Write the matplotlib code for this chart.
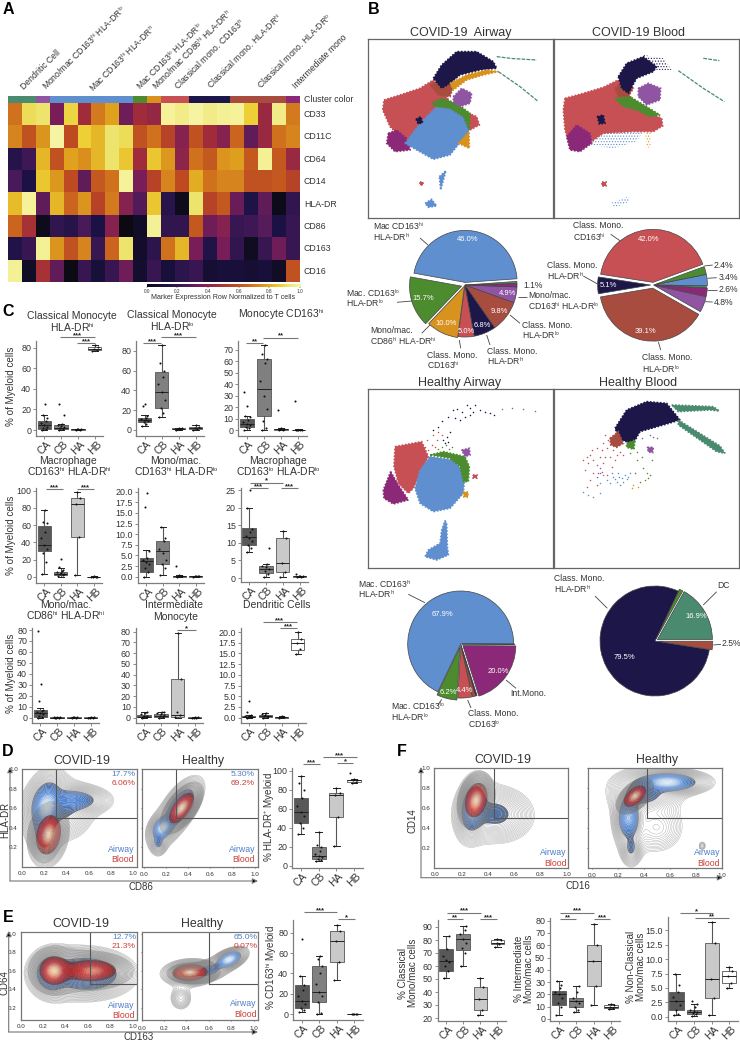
import numpy as np
import matplotlib
matplotlib.use("Agg")
import matplotlib.pyplot as plt
import matplotlib._mathtext as _mt
from matplotlib.colors import LinearSegmentedColormap, LogNorm
from matplotlib.patches import Polygon

_mt.SHRINK_FACTOR = 0.55
plt.rcParams.update({"font.family": ["Liberation Sans", "DejaVu Sans"], "mathtext.fontset": "custom",
                     "mathtext.rm": "Liberation Sans", "mathtext.default": "regular",
                     "hatch.linewidth": 0.5, "axes.linewidth": 0.8})

# ---------- Panel A data ----------
MARKERS = ["CD33", "CD11C", "CD64", "CD14", "HLA-DR", "CD86", "CD163", "CD16"]
HEAT = [
 [.68,.90,.92,.35,.88,.45,.70,.78,.33,.45,.42,.98,.95,.99,.95,.97,.98,.87,.43,.95,.70],
 [.72,.60,.75,.99,.58,.87,.82,.92,.90,.60,.68,.55,.38,.60,.45,.38,.65,.30,.43,.68,.72],
 [.15,.22,.82,.60,.78,.74,.82,.92,.85,.45,.85,.76,.40,.68,.62,.75,.77,.62,.97,.62,.43],
 [.25,.12,.85,.76,.58,.30,.62,.68,.98,.35,.55,.72,.58,.80,.68,.72,.72,.60,.60,.62,.55],
 [.83,.98,.30,.82,.65,.75,.55,.70,.38,.27,.85,.16,.03,.92,.55,.62,.32,.13,.30,.02,.18],
 [.65,.48,.03,.18,.15,.25,.12,.38,.00,.05,.97,.18,.18,.62,.33,.38,.20,.22,.28,.12,.20],
 [.14,.20,.97,.75,.60,.72,.20,.65,.92,.06,.17,.68,.82,.35,.14,.35,.18,.04,.20,.33,.20],
 [.97,.05,.48,.30,.01,.20,.09,.20,.33,.07,.20,.10,.17,.20,.08,.10,.10,.08,.10,.05,.60]]
BLUE, GREEN, ORANGE, RED = "#5f8fcf", "#4c8c2f", "#d8921e", "#c75055"
NAVY, BROWN, PURPLE, MAGENTA, TEAL = "#1d1648", "#a84c40", "#8f55a3", "#8c2878", "#4a8a6e"
CLUSTERS = [TEAL]*2 + [PURPLE] + [BLUE]*6 + [GREEN, ORANGE] + [RED]*2 + [NAVY]*3 + [BROWN]*4 + [MAGENTA]
HEAT_NAMES = ["Dendritic Cell", "Mono/mac CD163$^{hi}$ HLA-DR$^{lo}$", "Mac CD163$^{hi}$ HLA-DR$^{hi}$",
              "Mac CD163$^{lo}$ HLA-DR$^{lo}$", "Mono/mac CD86$^{hi}$ HLA-DR$^{hi}$", "Classical mono. CD163$^{hi}$",
              "Classical mono. HLA-DR$^{hi}$", "Classical mono. HLA-DR$^{lo}$", "Intermediate mono"]

# ---------- Panel B data ----------
PIE1_VALS = [46.0, 15.7, 10.0, 5.0, 6.8, 9.8, 4.9, 1.1, 0.6]
PIE1_COLS = [BLUE, GREEN, ORANGE, RED, NAVY, BROWN, PURPLE, MAGENTA, TEAL]
PIE2_VALS = [42.0, 5.1, 39.1, 4.8, 2.6, 0.6, 3.4, 2.4]
PIE2_COLS = [RED, NAVY, BROWN, PURPLE, MAGENTA, TEAL, BLUE, GREEN]
PIE3_VALS = [67.9, 6.2, 4.4, 1.0, 0.4, 20.0, 0.1]
PIE3_COLS = [BLUE, GREEN, RED, BROWN, NAVY, MAGENTA, TEAL]
PIE4_VALS = [16.9, 1.1, 79.5, 2.5]
PIE4_COLS = [TEAL, GREEN, NAVY, BROWN]

# UMAP cluster outlines and sparse regions (crop coordinates)
CA_SOLID = [
 (RED, [(42,300),(90,285),(150,265),(190,240),(215,270),(250,320),(320,350),(328,375),(300,390),(250,400),(150,420),(100,420),(60,380),(38,330)]),
 (MAGENTA, [(55,400),(80,390),(115,420),(120,450),(75,455),(50,430)]),
 (BLUE, [(105,430),(150,370),(200,320),(260,320),(295,360),(295,400),(260,440),(240,465),(190,478),(140,450)]),
 (GREEN, [(185,310),(215,295),(260,310),(300,340),(297,390),(280,350),(240,325),(200,320)]),
 (ORANGE, [(265,430),(297,395),(298,445)]),
 (BROWN, [(180,255),(215,235),(250,260),(240,290),(205,285)]),
 (NAVY, [(190,235),(215,195),(260,155),(320,155),(370,185),(380,205),(330,210),(270,225),(240,250),(215,265)]),
 (ORANGE, [(240,250),(290,225),(350,210),(385,215),(340,225),(290,240),(250,270)]),
 (PURPLE, [(250,290),(275,265),(305,280),(300,310),(270,320),(250,305)]),
 (NAVY, [(138,358),(152,350),(158,368),(145,372)]),
 (RED, [(150,547),(160,547),(160,556),(150,556)]),
 (BLUE, [(165,610),(185,598),(200,618),(175,622)]),
 (BLUE, [(208,530),(228,512),(218,548),(212,570)])]
CA_LINES = [(TEAL, [(380,170),(430,176),(500,180)]), (TEAL, [(385,215),(450,260),(505,305)])]
CB_SOLID = [
 (RED, [(585,295),(640,280),(700,262),(745,240),(775,280),(800,320),(875,355),(878,378),(850,395),(790,395),(700,400),(650,435),(600,440),(585,390),(580,330)]),
 (MAGENTA, [(590,410),(620,375),(660,400),(665,430),(630,455),(600,450)]),
 (BROWN, [(735,265),(765,240),(790,265),(775,290),(745,290)]),
 (GREEN, [(735,295),(780,290),(830,320),(870,345),(840,350),(800,330),(760,320)]),
 (NAVY, [(745,230),(770,190),(820,170),(860,200),(850,215),(800,235),(775,280),(755,265)]),
 (PURPLE, [(805,265),(835,250),(872,265),(870,300),(830,315),(805,290)]),
 (NAVY, [(682,350),(700,345),(705,370),(688,372)]),
 (RED, [(696,547),(708,547),(708,558),(696,558)])]
CB_SPARSE = [(BLUE, [(650,435),(690,380),(740,325),(790,320),(835,370),(800,425),(730,445)]),
             (NAVY, [(820,165),(880,175),(905,210),(860,210)]),
             (BLUE, [(720,610),(775,590),(780,605),(735,622)]),
             (ORANGE, [(825,395),(842,400),(842,445),(830,440)])]
CB_LINES = [(TEAL, [(925,212),(1000,265),(1063,305)]), (TEAL, [(1000,175),(1048,182)])]
HA_SOLID = [
 (RED, [(75,260),(155,245),(175,290),(130,385),(115,400),(85,370),(72,320)]),
 (MAGENTA, [(62,335),(85,375),(115,420),(70,432),(42,415),(40,390)]),
 (BLUE, [(180,290),(250,300),(285,340),(280,400),(240,445),(190,455),(150,430),(135,385),(150,330)]),
 (GREEN, [(180,285),(220,275),(285,290),(298,320),(295,365),(280,365),(270,320),(240,295)]),
 (BLUE, [(225,482),(230,490),(232,560),(235,585),(200,600),(165,590),(175,570),(210,550),(215,510)]),
 (PURPLE, [(275,270),(298,265),(300,285),(285,290)]),
 (ORANGE, [(280,395),(295,395),(295,412),(282,412)]),
 (RED, [(308,345),(320,345),(320,354),(308,354)])]
HA_PTS = [
 (NAVY, [(215,182),(235,170),(250,150),(262,148),(275,155),(290,135),(300,145),(315,135),(330,150),(345,155),(360,160),(372,165),
         (255,175),(270,180),(285,170),(300,165),(220,240),(230,230),(235,245),(225,250),(240,215),(190,210),(205,200),(310,155)]),
 (RED, [(150,250),(170,240),(190,225),(205,215),(165,262),(185,255),(200,240),(215,225),(140,275),(160,280),(175,270),(195,262)]),
 (GREEN, [(205,268),(215,262),(228,255),(238,268),(222,275),(245,262)]),
 (TEAL, [(395,147),(425,145),(460,146),(495,152)])]
HB_SOLID = [
 (NAVY, [(735,205),(770,150),(830,125),(890,130),(930,180),(880,195),(810,215),(790,250),(750,240)]),
 (BROWN, [(720,235),(745,215),(760,250),(740,262),(722,255)]),
 (GREEN, [(770,250),(795,240),(792,268),(770,262)]),
 (TEAL, [(905,135),(1030,140),(1048,153),(1020,150),(925,155)]),
 (TEAL, [(925,180),(1050,258),(1065,280),(1040,275),(925,195)]),
 (PURPLE, [(832,262),(850,262),(848,278),(835,276)])]
HB_PTS = [
 (RED, [(650,290),(665,270),(680,265),(700,250),(712,265),(690,290),(670,300),(655,310),(645,330),(670,340),(700,310),(720,290),
        (735,300),(690,340),(660,360),(680,375),(650,380),(725,320),(710,345),(640,300),(660,285),(695,270),(730,270),(742,285),
        (705,225),(715,240),(750,275),(760,285),(680,315),(705,290)]),
 (BLUE, [(700,345),(710,360),(720,370),(730,350),(745,340),(755,355),(765,345),(775,350),(740,365),(750,375),(725,340),(690,370),
         (760,365),(780,340),(655,405),(670,410),(690,400),(640,395),(735,358),(748,350),(770,358)]),
 (GREEN, [(800,300),(815,290),(845,300),(820,325),(830,340),(840,345),(825,360),(810,365),(835,355),(795,340),(800,275),(780,280)]),
 (PURPLE, [(860,235),(850,230),(840,225),(815,235),(690,325),(685,340),(695,335),(680,350)]),
 (ORANGE, [(790,375),(805,380),(785,385)])]

# ---------- Box plot data: (q1, median, q3, whisker low, whisker high) ----------
C1_BOX = [(.5,4.5,9,0,15),(.5,2,5,0,6),(.2,.5,.8,0,1.3),(78,79,81,77,83)]
C1_OUT = [[25],[15,25],[],[]]
C1_PTS = [[0,1,2,3,5,7,9,12,15],[0,1,2,3,4,5,6],[0,.3,.5,.8,1.2],[77,78,79,81,83]]
C2_BOX = [(8,10,12,4,15),(22,38,59,13,86),(.5,1,1.5,0,2),(1,2,3,0,4.5)]
C2_OUT = [[24,26],[],[],[]]
C2_PTS = [[4,6,8,9,10,11,12,14],[13,17,22,30,38,46,54,60,68,86],[0,.5,1,1.5,2],[0,1,2,3,4.5]]
C3_BOX = [(3,5,10,0,12),(12,36,62,0,74),(.3,.7,1.2,0,2),(0,.1,.3,0,.5)]
C3_OUT = [[21,33],[],[17],[25]]
C3_PTS = [[0,2,3,4,5,7,9,11,12],[0,2,8,18,30,43,58,62,66,74],[0,.4,.7,1,1.6],[0,.1,.2,.3,.4]]
C4_BOX = [(30,37,59,4,78),(2,4,6,0,10),(46,85,91,2.5,98),(.1,.3,.5,0,.8)]
C4_OUT = [[],[12,21],[],[]]
C4_PTS = [[4,17,28,33,37,45,52,62,64,78],[1,2,3,4,5,6,7,8],[2.5,46,85,91,98],[0,.2,.3,.5,.8]]
C5_BOX = [(1,3.7,4.5,0,6.2),(3,6,8.5,.5,11.7),(0,.1,.2,0,.3),(0,.1,.15,0,.2)]
C5_OUT = [[16.5,19.7],[],[2.6],[]]
C5_PTS = [[0,1,2,3,3.5,4,4.5,6],[.5,2,3,4,5.5,6.5,8.5,9,11.7],[0,.1,.1,.2,.3],[0,.1,.1,.1,.2]]
C6_BOX = [(9.5,11.7,14.2,7.3,20),(1.3,2.5,3.3,.3,3.9),(1.6,4.2,11.3,.4,13.3),(.3,.5,.6,.2,.7)]
C6_OUT = [[25],[8.5],[],[1.0]]
C6_PTS = [[7.3,8.5,9.5,10.5,11.5,12,13,14,20],[.3,1,2,2.5,3,3.3,3.9],[.4,1.6,4.2,11.3,13.3],[.2,.4,.5,.6,.7]]
C7_BOX = [(1,4,7,0,9),(0,.1,.2,0,.3),(0,.1,.2,0,.4),(0,.1,.2,0,.3)]
C7_OUT = [[15,31,79],[],[],[]]
C7_PTS = [[0,1,2,3,4,5,6,7],[0,.1,.1,.2,.2,.3],[0,.1,.2,.3,.4],[0,.1,.1,.2,.3]]
C8_BOX = [(.3,1,2.2,0,5),(1,2,3.5,0,5.5),(1,2.5,36,0,79),(0,.1,.2,0,.3)]
C8_OUT = [[],[],[],[]]
C8_PTS = [[0,.5,1,1.5,2,3,4,5],[0,1,2,2.5,3,4,5,5.5],[1,2.5,5,36,79],[0,.1,.1,.2,.3]]
C9_BOX = [(.1,.2,.5,0,.6),(.2,.4,.7,0,1.2),(0,.1,.2,0,.3),(15.9,17.4,18.4,14.9,20)]
C9_OUT = [[1.4,3.9],[],[],[]]
C9_PTS = [[0,.1,.2,.2,.3,.4,.5,.6],[0,.2,.3,.4,.6,.8,1.2],[0,.1,.1,.2,.3],[14.9,16,17.4,18.4,20]]
D_BOX = [(45,57,71,34,95),(7,10,20,5,36),(51,75,77,21,82),(88,90,91,87,92)]
D_OUT = [[],[],[],[98]]
D_PTS = [[34,40,45,52,57,63,71,80,87,95],[5,6,7,9,10,12,15,20,22,36],[21,51,75,77,82],[87,88,90,91,92]]
E_BOX = [(6,13,29,2,37),(12,22,47,0,57),(51,72,82,33,88),(0,0,.1,0,.3)]
E_OUT = [[74],[],[],[]]
E_PTS = [[2,4,6,10,13,18,24,29,37],[0,1,12,18,22,30,40,47,54,57],[33,51,72,82,88],[0,0,.1,.2,.3]]
F1_BOX = [(56,64,73,51,83),(72,81,85,60,91),(26,35,44,22,51),(77,78,80,75,81)]
F1_OUT = [[],[],[],[]]
F1_PTS = [[51,56,60,63,65,68,73,83],[60,70,74,78,81,85,88,91],[22,26,35,44,51],[75,77,78,80,81]]
F2_BOX = [(11,20,23,3,31),(10,15,17,6,27),(27,47,60,11,77),(9,10,11,8,12)]
F2_OUT = [[],[],[],[]]
F2_PTS = [[3,10,13,17,20,22,25,28,31],[6,7,10,13,15,17,22,27],[11,27,47,60,77],[8,9,10,11,12]]
F3_BOX = [(1.2,2.8,4.3,.3,7.5),(.4,.8,1.2,.1,2.2),(3.3,6.5,12.8,.3,16.5),(5.9,7.1,8,5,8.6)]
F3_OUT = [[],[2.8],[],[]]
F3_PTS = [[.3,.5,1.2,2,2.8,3.5,4.3,5.5,7.5],[.1,.4,.6,.8,1,1.2,1.6,2.2],[.3,3.3,6.5,12.8,16.5],[5,5.9,7.1,8,8.6]]
GROUPS = ["CA", "CB", "HA", "HB"]
BOX_FILL = ["#585858", "#808080", "#c9c9c9", "#ffffff"]

# ---------- Flow density blobs: (x, y, sx, sy, rho, weight) ----------
D1_AIR = [(.22,.62,.06,.11,.2,1),(.45,.68,.13,.06,0,.3),(.2,.35,.05,.11,0,.25),(.4,.55,.13,.15,0,.05)]
D1_BLD = [(.24,.33,.05,.09,.2,1),(.22,.3,.07,.12,0,.05)]
D2_AIR = [(.17,.40,.04,.05,.3,1),(.33,.62,.07,.1,.6,.45),(.13,.25,.035,.06,0,.1),(.28,.5,.09,.14,.7,.04)]
D2_BLD = [(.34,.60,.05,.07,.6,1),(.34,.6,.08,.1,.6,.05)]
E1_AIR = [(.28,.57,.06,.08,0,1),(.6,.56,.14,.09,0,.55),(.5,.6,.16,.11,0,.05)]
E1_BLD = [(.3,.60,.06,.07,0,1),(.65,.60,.11,.06,0,.55),(.5,.6,.16,.1,0,.05)]
E2_AIR = [(.78,.72,.05,.04,.5,1),(.6,.6,.07,.05,.3,.15),(.42,.57,.09,.05,0,.1)]
E2_BLD = [(.43,.58,.07,.04,.1,1),(.35,.3,.06,.08,0,.03),(.45,.57,.1,.06,0,.05)]
F1_AIR = [(.29,.6,.04,.1,.2,1),(.45,.55,.13,.13,0,.08),(.5,.5,.15,.15,0,.02)]
F1_BLD = [(.31,.68,.04,.08,.2,1)]
F2_AIR = [(.58,.86,.1,.04,0,1),(.28,.5,.04,.1,0,.55),(.3,.2,.04,.09,0,.08),(.5,.4,.14,.17,0,.025),(.85,.22,.025,.04,0,.012),(.4,.75,.12,.1,0,.12)]
F2_BLD = [(.33,.72,.04,.05,.5,1)]

# ---------- helpers ----------
W, H = 740, 1042
fig = plt.figure(figsize=(W/100, H/100), dpi=100)
TXT = "#333333"
GRAY = "#7d7d7d"
HEAT_MAP = LinearSegmentedColormap.from_list("ref", [(0,"#0b0a12"),(.12,"#1c1245"),(.25,"#481a5a"),(.35,"#7a1e58"),(.45,"#a02c3c"),
                                                      (.58,"#bd4a22"),(.68,"#d0701e"),(.78,"#e0a21e"),(.87,"#edd035"),(.93,"#eee878"),(1,"#f8f6a8")])

def ax_px(x0, y0, x1, y1, **kw):
    return fig.add_axes([x0/W, 1-y1/H, (x1-x0)/W, (y1-y0)/H], **kw)

ov = fig.add_axes([0, 0, 1, 1], zorder=20)
ov.set_xlim(0, W); ov.set_ylim(H, 0); ov.axis("off"); ov.patch.set_alpha(0)

def T(x, y, s, size=6.2, ha="left", va="center", color=TXT, **kw):
    return ov.text(x, y, s, fontsize=size, ha=ha, va=va, color=color, **kw)

def L(pts, color="#444444", lw=.6):
    ov.plot([p[0] for p in pts], [p[1] for p in pts], color=color, lw=lw, solid_capstyle="butt")

# ---------- Panel A ----------
ha = ax_px(8, 103, 300, 282)
ha.imshow(np.array(HEAT), cmap=HEAT_MAP, vmin=0, vmax=1, aspect="auto", interpolation="nearest")
ha.set_xticks([]); ha.set_yticks([])
for s in ha.spines.values(): s.set_visible(False)
hc = ax_px(8, 96, 300, 103)
hc.imshow([[matplotlib.colors.to_rgb(c) for c in CLUSTERS]], aspect="auto")
hc.axis("off")
T(304, 99, "Cluster color", 6.3)
for i, m in enumerate(MARKERS):
    T(304, 114.5 + i*22.4, m, 6.3)
for (x, y), s in zip([(22,88),(44,88),(91,90),(138,88),(154,88),(176,88),(209,87),(259,87),(294,87)], HEAT_NAMES):
    ov.text(x, y, s, fontsize=6.2, rotation=45, rotation_mode="anchor", ha="left", va="center", color=TXT)
cb = ax_px(146.7, 284.3, 300, 287.3)
cb.imshow(np.linspace(0, 1, 256)[None, :], cmap=HEAT_MAP, aspect="auto", extent=[0, 1, 0, 1])
cb.set_yticks([]); cb.set_xticks(np.arange(0, 1.01, .2))
cb.set_xticklabels(["0.0","0.2","0.4","0.6","0.8","1.0"], fontsize=3.4, color=TXT)
cb.tick_params(length=1, width=.3, pad=.5)
for s in cb.spines.values(): s.set_visible(False)
T(223, 297.3, "Marker Expression Row Normalized to T cells", 5.1, ha="center")

for x, y, s in [(8,9,"A"),(374,9,"B"),(8,312,"C"),(8,752,"D"),(8,917,"E"),(402,752,"F")]:
    T(x, y, s, 11.5, ha="center", color="black", fontweight="bold")

# ---------- Panel B UMAPs ----------
def umap(box, xlim, ylim, solid=(), sparse=(), lines=(), pts=()):
    a = ax_px(*box)
    a.set_xlim(*xlim); a.set_ylim(*ylim)
    a.set_xticks([]); a.set_yticks([])
    for s in a.spines.values():
        s.set_color("#666666"); s.set_linewidth(.9)
    for c, v in sparse:
        a.add_patch(Polygon(v, fc="none", ec=c, hatch="......", lw=0))
    for c, v in solid:
        a.add_patch(Polygon(v, fc=c, ec=c, lw=1.2, ls=(0, (1, 1))))
    for c, v in lines:
        a.plot([p[0] for p in v], [p[1] for p in v], color=c, lw=.9, ls=(0, (3, 1)))
    for c, v in pts:
        a.scatter([p[0] for p in v], [p[1] for p in v], s=1.2, color=c, lw=0)
    return a

umap((368, 39.3, 552.7, 218.3), (-6, 548), (655, 118), CA_SOLID, (), CA_LINES)
umap((554.3, 39.3, 739, 218.3), (553, 1107), (655, 118), CB_SOLID, CB_SPARSE, CB_LINES)
umap((368, 389.3, 552.7, 568.3), (-6, 548), (625, 88), HA_SOLID, (), (), HA_PTS)
umap((554.3, 389.3, 739, 568.3), (553, 1107), (625, 88), HB_SOLID, (), (), HB_PTS)
for x, y, s in [(461,32.7,"COVID-19  Airway"),(638,32.7,"COVID-19 Blood"),(459.7,382.7,"Healthy Airway"),(638,382.7,"Healthy Blood")]:
    T(x, y, s, 9, ha="center")

# ---------- Panel B pies ----------
def pie(cx, cy, R, vals, cols, start, explode, dists):
    m = 1.35
    a = ax_px(cx-R*m, cy-R*m, cx+R*m, cy+R*m)
    a.set_zorder(5)
    wedges, _ = a.pie(vals, colors=cols, startangle=start, explode=explode, normalize=True,
                      wedgeprops={"edgecolor": "#444444", "linewidth": .5})
    for w, v, d in zip(wedges, vals, dists):
        if d:
            ang = np.radians((w.theta1 + w.theta2)/2)
            a.text(w.center[0]+d*np.cos(ang), w.center[1]+d*np.sin(ang), f"{v:.1f}%",
                   color="white", fontsize=5.5, ha="center", va="center")
    a.set_xlim(-m, m); a.set_ylim(-m, m)

pie(465, 285, 52, PIE1_VALS, PIE1_COLS, 4, [.05,.07,.02,0,0,0,0,0,0], [.83,.78,.81,.9,.85,.84,.84,0,0])
pie(653.3, 285, 53, PIE2_VALS, PIE2_COLS, 20, [.05,.05,.06,.02,.02,0,.02,.02], [.82,.79,.83,0,0,0,0,0])
pie(460.7, 644, 53, PIE3_VALS, PIE3_COLS, 0, [0,.06,.02,.02,.02,.05,.02], [.66,.88,.86,0,0,.82,0])
pie(655, 641, 55, PIE4_VALS, PIE4_COLS, 0, [.05,.04,0,.05], [.82,0,.63,0])

PIE_TEXT = [
 (373.3,226,"Mac CD163$^{hi}$"),(373.3,236.7,"HLA-DR$^{hi}$"),(346,293,"Mac. CD163$^{lo}$"),(346,303.3,"HLA-DR$^{lo}$"),
 (370.5,330.7,"Mono/mac."),(370,340.7,"CD86$^{hi}$ HLA-DR$^{hi}$"),(427,355,"Class. Mono."),(427,365,"CD163$^{hi}$"),
 (486.7,351,"Class. Mono."),(486.7,361.5,"HLA-DR$^{hi}$"),(521.7,325,"Class. Mono."),(521.7,335,"HLA-DR$^{lo}$"),
 (528.3,295,"Mono/mac."),(528.3,305.7,"CD163$^{hi}$ HLA-DR$^{lo}$"),(523,286,"1.1%"),
 (573.3,226,"Class. Mono."),(573.3,236.7,"CD163$^{hi}$"),(547.3,266,"Class. Mono."),(547.3,276,"HLA-DR$^{hi}$"),
 (641.7,358,"Class. Mono."),(641.7,369,"HLA-DR$^{lo}$"),(714,265,"2.4%"),(718.7,277.7,"3.4%"),(718.7,290,"2.6%"),(714,302.7,"4.8%"),
 (358,584,"Mac. CD163$^{hi}$"),(358,594.3,"HLA-DR$^{hi}$"),(390.7,706,"Mac. CD163$^{lo}$"),(390.7,716.7,"HLA-DR$^{lo}$"),
 (468.3,714,"Class. Mono."),(468.3,724,"CD163$^{lo}$"),(510.7,693.3,"Int.Mono."),
 (554,578.3,"Class. Mono."),(554,588.7,"HLA-DR$^{hi}$"),(717.7,585.3,"DC"),(722,644,"2.5%")]
for x, y, s in PIE_TEXT:
    T(x, y, s, 6.2)
LEADERS = [((420,238),(428,245)),((397,302.3),(412,301)),((421.7,333.3),(430,325)),((459.3,340),(460.7,348.3)),
           ((486.7,335),(490,345)),((510,315),(520,323.3)),((518.3,296.7),(527.3,296.7)),
           ((610.7,234.3),(620,240.7)),((583.3,276),(599.3,285)),((658.3,341.7),(660.7,350)),
           ((704.3,266),(712.7,265)),((707.3,278.3),(716.7,277.7)),((707.3,290),(716.7,290)),((705,301.7),(712.7,302)),
           ((408.3,594.3),(425,602.7)),((441.7,699.3),(438,705)),((467.7,700),(471,708)),((506,680),(516,688.3)),
           ((595,596),(607.3,608.3)),((716.7,591.7),(703.3,605)),((713.3,645),(721,644.3))]
for p, q in LEADERS:
    L([p, q])

# ---------- box plots ----------
JIT = [-.1, .08, -.04, .13, 0, -.15, .05, .11, -.07, .02]

def boxes(xl, xr, yt, yb, cal, data, out, pts, ticks, fmt=None, ylabel=None, ylab=None):
    (p0, v0), (p1, v1) = cal
    k = (v1-v0)/(p1-p0)
    a = ax_px(xl, yt, xr, yb)
    a.patch.set_alpha(0)
    a.set_xlim(-.5, 3.5)
    a.set_ylim(v0+(yb-p0)*k, v0+(yt-p0)*k)
    stats = [dict(q1=q1, med=m, q3=q3, whislo=lo, whishi=hi, fliers=[]) for q1, m, q3, lo, hi in data]
    b = a.bxp(stats, positions=range(4), widths=.8, capwidths=.36, patch_artist=True, showfliers=False,
              medianprops=dict(color="#222222", lw=.7), whiskerprops=dict(color="#555555", lw=.8),
              capprops=dict(color="#222222", lw=.7), boxprops=dict(edgecolor="#555555", lw=.6))
    for patch, c in zip(b["boxes"], BOX_FILL):
        patch.set_facecolor(c)
    for i in range(4):
        vals = list(pts[i]) + list(out[i])
        xs = [i + JIT[j % len(JIT)]*1.4 for j in range(len(vals))]
        a.scatter(xs, vals, s=2.2, color="#111111", lw=0, zorder=5)
    a.set_xticks(range(4)); a.set_xticklabels(GROUPS, rotation=45, fontsize=7.5, color=TXT, ha="center", va="top")
    a.set_yticks(ticks)
    a.set_yticklabels([(fmt % t if fmt else str(t)) for t in ticks], fontsize=6.4, color=TXT)
    a.tick_params(axis="y", length=2, width=.6, color="#777777", pad=1.5)
    a.tick_params(axis="x", length=2, width=.6, color="#777777", pad=0.5)
    for s in ("top", "right"): a.spines[s].set_visible(False)
    for s in ("left", "bottom"):
        a.spines[s].set_color(GRAY); a.spines[s].set_linewidth(.9)
    if ylabel:
        T(ylab[0], ylab[1], ylabel, 7.1, ha="center", rotation=90, linespacing=1.1, multialignment="center")
    return a

T0 = list(range(0, 81, 20))
boxes(36,103,341,436,[(430,0),(347.7,80)],C1_BOX,C1_OUT,C1_PTS,T0,ylabel="% of Myeloid cells",ylab=(11.5,386))
boxes(136,204,341,436,[(429.7,0),(351,80)],C2_BOX,C2_OUT,C2_PTS,T0)
boxes(238.3,307,341,436,[(430,0),(349.7,70)],C3_BOX,C3_OUT,C3_PTS,list(range(0,71,10)))
boxes(36,102,487.7,582.7,[(577,0),(490.7,100)],C4_BOX,C4_OUT,C4_PTS,list(range(0,101,20)),ylabel="% of Myeloid cells",ylab=(11.5,535))
HALF = [0,2.5,5,7.5,10,12.5,15,17.5,20]
boxes(138,204,487.7,582.7,[(576.7,0),(491.7,20)],C5_BOX,C5_OUT,C5_PTS,HALF,"%.1f")
boxes(240.7,308,487.7,582,[(578,0),(490,25)],C6_BOX,C6_OUT,C6_PTS,[0,5,10,15,20,25])
boxes(32,99,628,723,[(717.7,0),(630,80)],C7_BOX,C7_OUT,C7_PTS,list(range(0,81,10)),ylabel="% of Myeloid cells",ylab=(11.5,673))
boxes(135.7,203,628,723,[(717.7,0),(631.7,80)],C8_BOX,C8_OUT,C8_PTS,list(range(0,81,10)))
boxes(240.7,306,628,723,[(717.7,0),(632,20)],C9_BOX,C9_OUT,C9_PTS,HALF,"%.1f")
boxes(292,363,768,868,[(865.7,0),(771,100)],D_BOX,D_OUT,D_PTS,T0+[100],ylabel="% HLA-DR$^{+}$ Myeloid",ylab=(269,817))
boxes(293,363,920,1020,[(1014,0),(932.7,80)],E_BOX,E_OUT,E_PTS,T0,ylabel="% CD163$^{hi}$ Myeloid",ylab=(272,968))
boxes(437.7,506,920,1020.7,[(1018,20),(927,90)],F1_BOX,F1_OUT,F1_PTS,list(range(20,91,10)),ylabel="% Classical\nMono/mac cells",ylab=(408,973))
boxes(550,620,918,1020.7,[(1019,0),(920.7,80)],F2_BOX,F2_OUT,F2_PTS,list(range(0,81,10)),ylabel="% Intermediate\nMono/mac cells",ylab=(524,969))
boxes(667.7,738,916.7,1020.7,[(1016.7,0),(930.3,15)],F3_BOX,F3_OUT,F3_PTS,[0,2.5,5,7.5,10,12.5,15],"%.1f",ylabel="% Non-Classical\nMono/mac cells",ylab=(636,967))

C_TITLES = [(72,316,"Classical Monocyte"),(72,327.5,"HLA-DR$^{hi}$"),(172,315,"Classical Monocyte"),(172,327,"HLA-DR$^{lo}$"),
            (281,315,"Monocyte CD163$^{hi}$"),(68.5,460.5,"Macrophage"),(69,472,"CD163$^{hi}$ HLA-DR$^{hi}$"),
            (176,460.5,"Mono/mac."),(176,472,"CD163$^{hi}$ HLA-DR$^{lo}$"),(278,460.5,"Macrophage"),(278,472,"CD163$^{lo}$ HLA-DR$^{lo}$"),
            (66,605,"Mono/mac."),(66,616,"CD86$^{hi}$ HLA-DR$^{hi}$"),(174,605,"Intermediate"),(176,617,"Monocyte"),(277,605,"Dendritic Cells")]
for x, y, s in C_TITLES:
    T(x, y, s, 7.5, ha="center")

# significance bars in zoom-crop coordinates converted to page pixels
SIG = [((180,285,112),"***",(0,300,3)),((232,285,130),"***",(0,300,3)),((430,482,130),"***",(0,300,3)),((484,588,112),"***",(0,300,3)),
       ((737,790,130),"**",(0,300,3)),((790,895,113),"**",(0,300,3)),((138,188,568),"***",(0,300,3)),((232,282,568),"***",(0,300,3)),
       ((750,850,548),"*",(0,300,3)),((750,803,565),"***",(0,300,3)),((842,895,565),"***",(0,300,3)),((530,587,990),"*",(0,300,3)),
       ((788,890,967),"***",(0,300,3)),((840,890,985),"***",(0,300,3)),
       ((908,960,192),"***",(0,700,3)),((968,1070,172),"***",(0,700,3)),((1010,1060,190),"*",(0,700,3)),
       ((912,1012,637),"***",(0,700,3)),((1013,1065,657),"*",(0,700,3)),
       ((232,332,638),"***",(370,700,3)),((230,280,658),"**",(370,700,3)),((330,382,658),"***",(370,700,3)),
       ((570,672,638),"***",(370,700,3)),((570,618,658),"**",(370,700,3)),((672,720,658),"***",(370,700,3)),
       ((930,1030,640),"*",(370,700,3)),((975,1078,655),"**",(370,700,3))]
for (a, b, y), s, (ox, oy, z) in SIG:
    L([(a/z+ox, y/z+oy), (b/z+ox, y/z+oy)], color="#777777", lw=.8)
    T((a+b)/2/z+ox, y/z+oy-1.6, s, 5.5, ha="center", color="#222222", fontweight="bold")

# ---------- flow plots ----------
BLUE_MAP = LinearSegmentedColormap.from_list("b", ["#5a6678", "#3f6fb8", "#4a80d0", "#a8c8ea", "#f6f7f5"])
RED_MAP = LinearSegmentedColormap.from_list("r", ["#5a3a3a", "#b52a22", "#d1322a", "#e8906a", "#f6efc8"])
LEV = np.geomspace(.006, .06, 20)
FILL = np.geomspace(.06, 1.3, 18)

def dens(X, Y, comps):
    Z = np.zeros_like(X)
    for cx, cy, sx, sy, r, w in comps:
        u, v = (X-cx)/sx, (Y-cy)/sy
        q = (u*u - 2*r*u*v + v*v)/(1-r*r)
        Z += w*(1 + q/3)**-3
    return Z

def flow(box, xlim, ylim, air, blood, gate, showy):
    a = ax_px(*box)
    a.set_xlim(*xlim); a.set_ylim(*ylim)
    X, Y = np.meshgrid(np.linspace(xlim[0], xlim[1], 260), np.linspace(ylim[0], ylim[1], 260))
    for comps, cmap in ((air, BLUE_MAP), (blood, RED_MAP)):
        Z = dens(X, Y, comps)
        a.contour(X, Y, Z, levels=LEV, colors="#777777", linewidths=.25, alpha=.75)
        a.contourf(X, Y, Z, levels=FILL, cmap=cmap, norm=LogNorm(.06, 1.3), extend="neither", alpha=.95, antialiased=True)
    a.plot([gate[0], gate[0]], [gate[1], ylim[1]], color="#555555", lw=.8)
    a.plot([gate[0], xlim[1]], [gate[1], gate[1]], color="#555555", lw=.8)
    a.set_xticks(np.arange(0, 1.01, .2))
    a.set_xticklabels(["%.1f" % t for t in np.arange(0, 1.01, .2)], fontsize=4.5, color=TXT)
    a.set_yticks(np.arange(.2, 1.01, .2))
    a.set_yticklabels(["%.1f" % t for t in np.arange(.2, 1.01, .2)] if showy else [], fontsize=4.5, color=TXT)
    a.tick_params(length=0 if showy else 1, width=.4, pad=3, labelsize=4.5)
    for s in a.spines.values():
        s.set_color("#777777"); s.set_linewidth(.9)
    return a

flow((22,769,137,866.7),(0,1.035),(0,1.0),D1_AIR,D1_BLD,(.31,.5),True)
flow((141.7,769,258,866.7),(-.02,1.03),(0,1.0),D2_AIR,D2_BLD,(.29,.5),False)
flow((20.7,932.3,137,1020),(0,1.04),(.065,1.015),E1_AIR,E1_BLD,(.62,.45),True)
flow((141.7,932.3,258,1020),(0,1.04),(.065,1.015),E2_AIR,E2_BLD,(.6,.45),False)
flow((434.3,768.3,567.7,867.7),(-.01,1.01),(0,1.0),F1_AIR,F1_BLD,(.45,.5),True)
flow((588.3,768.3,721.7,867.7),(-.03,1.0),(0,1.0),F2_AIR,F2_BLD,(.42,.5),False)

BLUE_T, RED_T = "#4f7fc8", "#c9403a"
for x, y, s, c in [(135,774,"17.7%",BLUE_T),(135,783.3,"6.06%",RED_T),(255,774,"5.30%",BLUE_T),(255,783.3,"69.2%",RED_T),
                   (136,937.3,"12.7%",BLUE_T),(136,946.7,"21.3%",RED_T),(257.7,937.3,"65.0%",BLUE_T),(257.7,946.7,"0.07%",RED_T)]:
    T(x, y, s, 6.1, ha="right", color=c)
for x, y1, y2 in [(134,849,859.3),(255,849,859.3),(134.3,1005,1015.7),(256.7,1004,1014.7),(566.7,852.7,863.3),(720,852.7,863.3)]:
    T(x, y1, "Airway", 6.3, ha="right", color=BLUE_T)
    T(x, y2, "Blood", 6.3, ha="right", color=RED_T)
for x, y, s in [(81.7,761,"COVID-19"),(203,761,"Healthy"),(81,924,"COVID-19"),(202.5,924,"Healthy"),(502.7,760,"COVID-19"),(656.7,760,"Healthy")]:
    T(x, y, s, 8.9, ha="center")
for x, y, s, r in [(140.7,887.3,"CD86",0),(138.3,1037,"CD163",0),(578,886,"CD16",0),(4.8,820,"HLA-DR",90),(4.2,983,"CD64",90),(413,820.7,"CD14",90)]:
    T(x, y, s, 7, ha="center", rotation=r)

ARROWS = [((10,881),(10,767),(258,881)),((8.7,1032),(8.7,931),(258,1032)),((421,877.7),(421,767),(723,877.7))]
for o, up, rt in ARROWS:
    for e in (up, rt):
        ov.annotate("", xy=e, xytext=o, arrowprops=dict(arrowstyle="-|>,head_width=.16,head_length=.32", color="#777777", lw=.8, shrinkA=0, shrinkB=0, fc="black"))

fig.savefig("out.png", dpi=100)
